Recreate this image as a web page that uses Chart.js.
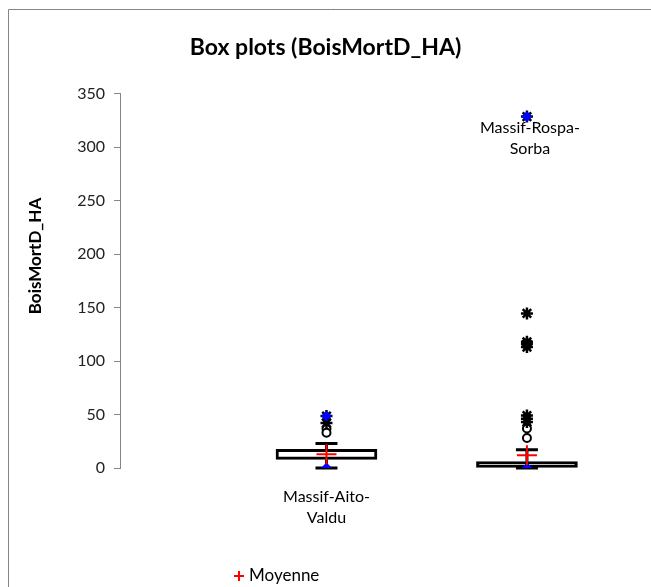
<!DOCTYPE html>
<html>
<head>
<meta charset="utf-8">
<script src="https://cdn.jsdelivr.net/npm/chart.js@4.4.0/dist/chart.umd.min.js"></script>
<style>
  html, body { margin: 0; padding: 0; background: #fff; }
  #wrap { width: 651px; height: 587px; }
</style>
</head>
<body>
<div id="wrap"><canvas id="chart" width="651" height="587"></canvas></div>
<script>
// data
const categories = [['Massif-Aito-', 'Valdu'], ['Massif-Rospa-', 'Sorba']];
const xPos = [1, 2];
const q1 = [8, 0];
const q3 = [17.5, 6];
const whiskerLow = [0, 0];
const whiskerHigh = [23, 17];
const means = [12.8, 12];
const mins = [0, 0];
const maxs = [48.5, 328.5];
const starOutliers = [[48.5, 42], [328.5, 144.5, 118, 116, 113, 49, 46, 43]];
const circleOutliers = [[37, 33], [37, 28]];
const yTicks = [0, 50, 100, 150, 200, 250, 300, 350];
const yTitle = 'BoisMortD_HA';

const FONT = 'Lato, "Open Sans", sans-serif';

function pts(arr) {
  const out = [];
  arr.forEach((v, i) => {
    if (Array.isArray(v)) v.forEach(y => out.push({ x: xPos[i], y: y }));
    else out.push({ x: xPos[i], y: v });
  });
  return out;
}

// whiskers, frame, category labels, axis title and legend
const boxExtras = {
  id: 'boxExtras',
  beforeDraw(chart) {
    const ctx = chart.ctx;
    ctx.save();
    ctx.strokeStyle = '#868686';
    ctx.lineWidth = 1;
    ctx.beginPath();
    ctx.moveTo(8.5, 600);
    ctx.lineTo(8.5, 9.5);
    ctx.lineTo(660, 9.5);
    ctx.stroke();
    ctx.restore();
  },
  beforeDatasetsDraw(chart) {
    const ctx = chart.ctx;
    const xs = chart.scales.x, ys = chart.scales.y;
    ctx.save();
    ctx.strokeStyle = '#000';
    ctx.lineWidth = 3;
    xPos.forEach((xv, i) => {
      const px = xs.getPixelForValue(xv);
      ctx.beginPath();
      ctx.moveTo(px, ys.getPixelForValue(q3[i]));
      ctx.lineTo(px, ys.getPixelForValue(whiskerHigh[i]));
      ctx.moveTo(px, ys.getPixelForValue(q1[i]));
      ctx.lineTo(px, ys.getPixelForValue(whiskerLow[i]));
      ctx.moveTo(px - 11, ys.getPixelForValue(whiskerHigh[i]));
      ctx.lineTo(px + 11, ys.getPixelForValue(whiskerHigh[i]));
      ctx.moveTo(px - 11, ys.getPixelForValue(whiskerLow[i]));
      ctx.lineTo(px + 11, ys.getPixelForValue(whiskerLow[i]));
      ctx.stroke();
    });
    ctx.restore();
  },
  afterDraw(chart) {
    const ctx = chart.ctx;
    const xs = chart.scales.x, ys = chart.scales.y;
    ctx.save();
    ctx.fillStyle = '#000';
    ctx.font = '16px ' + FONT;
    ctx.textAlign = 'center';
    ctx.textBaseline = 'middle';
    // first label under the axis, second one under its max point
    const y0 = [ys.getPixelForValue(0) + 29, ys.getPixelForValue(maxs[1]) + 11];
    const xOff = [0, 3];
    categories.forEach((lines, i) => {
      const px = xs.getPixelForValue(xPos[i]) + xOff[i];
      lines.forEach((t, j) => ctx.fillText(t, px, y0[i] + j * 21));
    });
    // y axis title
    ctx.save();
    ctx.translate(36, 256);
    ctx.rotate(-Math.PI / 2);
    ctx.font = 'bold 17px ' + FONT;
    ctx.fillText(yTitle, 0, 0);
    ctx.restore();
    // legend
    ctx.strokeStyle = '#ff0000';
    ctx.lineWidth = 2;
    ctx.beginPath();
    ctx.moveTo(234, 576); ctx.lineTo(244, 576);
    ctx.moveTo(239, 571); ctx.lineTo(239, 581);
    ctx.stroke();
    ctx.font = '17px ' + FONT;
    ctx.textAlign = 'left';
    ctx.fillText('Moyenne', 249, 576);
    ctx.restore();
  }
};

new Chart(document.getElementById('chart').getContext('2d'), {
  type: 'bar',
  data: {
    datasets: [
      {
        type: 'scatter',
        label: 'Moyenne',
        data: pts(means),
        pointStyle: 'cross',
        radius: 10,
        borderColor: '#ff0000',
        borderWidth: 2
      },
      {
        type: 'scatter',
        label: 'Min/Max',
        data: pts(mins).concat(pts(maxs)),
        pointStyle: 'rectRot',
        radius: 5,
        backgroundColor: '#0000ff',
        borderColor: '#0000ff',
        borderWidth: 1
      },
      {
        type: 'scatter',
        label: 'Outliers',
        data: pts(starOutliers),
        pointStyle: 'star',
        radius: 6,
        borderColor: '#000',
        borderWidth: 2.5
      },
      {
        type: 'scatter',
        label: 'Outliers2',
        data: pts(circleOutliers),
        pointStyle: 'circle',
        radius: 4,
        backgroundColor: '#fff',
        borderColor: '#000',
        borderWidth: 2
      },
      {
        label: 'Box',
        data: xPos.map((x, i) => ({ x: x, y: [q1[i], q3[i]] })),
        backgroundColor: '#fff',
        borderColor: '#000',
        borderWidth: 3,
        borderSkipped: false,
        barThickness: 101,
        grouped: false
      }
    ]
  },
  options: {
    responsive: false,
    animation: false,
    layout: { padding: { left: 0, right: 0, top: 0, bottom: 119 } },
    plugins: {
      legend: { display: false },
      tooltip: { enabled: false },
      title: {
        display: true,
        text: 'Box plots (BoisMortD_HA)',
        color: '#000',
        font: { family: FONT, size: 23, weight: 'bold' },
        padding: { top: 34, bottom: 32 }
      }
    },
    scales: {
      x: {
        type: 'linear',
        display: false,
        offset: false,
        min: -0.03,
        max: 2.559
      },
      y: {
        min: 0,
        max: 350,
        afterBuildTicks: (scale) => { scale.ticks = yTicks.map(v => ({ value: v })); },
        afterFit: (scale) => { scale.width = 120; },
        grid: {
          display: true,
          drawOnChartArea: false,
          drawTicks: true,
          tickLength: 6,
          color: '#868686'
        },
        border: { display: true, color: '#868686', width: 1 },
        ticks: {
          color: '#222',
          padding: 9,
          font: { family: FONT, size: 16 }
        },
        title: { display: false }
      }
    }
  },
  plugins: [boxExtras]
});
</script>
</body>
</html>
